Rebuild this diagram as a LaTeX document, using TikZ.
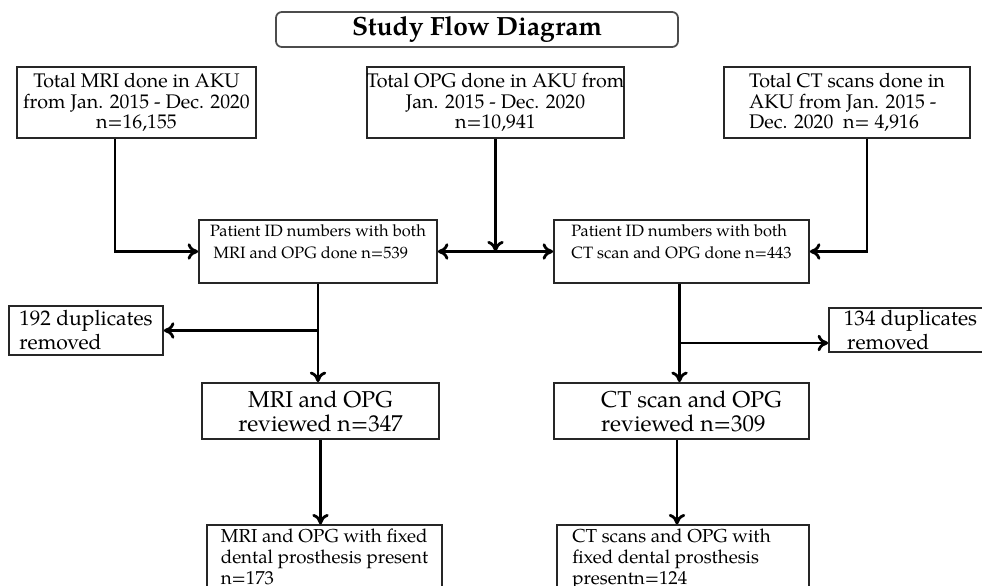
\documentclass[tikz,border=0pt]{standalone}
\usepackage{fontspec}
\setmainfont{texgyrepagella}[Extension=.otf, UprightFont=*-regular, BoldFont=*-bold, ItalicFont=*-italic, BoldItalicFont=*-bolditalic]
\usepackage{tikz}
\usetikzlibrary{arrows.meta}

\begin{document}
\begin{tikzpicture}[
    box/.style={draw=black!85, line width=1.5pt, inner xsep=2pt, inner ysep=0pt},
    arr/.style={line width=2.4pt, -{To[length=9pt, width=14pt]}},
    topfont/.style={font=\fontsize{16.8pt}{17.6pt}\selectfont},
    idfont/.style={font=\fontsize{14pt}{18.7pt}\selectfont},
    dupfont/.style={font=\fontsize{18pt}{20.4pt}\selectfont},
    revfont/.style={font=\fontsize{19.6pt}{20.4pt}\selectfont},
    endfont/.style={font=\fontsize{16pt}{18.2pt}\selectfont}
  ]
    \useasboundingbox (0,0) rectangle (29.46,-17.58);

    % Title
    \node[box, draw=black!70, rounded corners=5pt, minimum width=12.06cm, minimum height=1.05cm,
      font=\fontsize{22.5pt}{24pt}\selectfont\bfseries] (title) at (14.31,-0.885) {Study Flow Diagram};

    % Source scans
    \node[box, topfont, minimum width=7.17cm, minimum height=2.13cm, align=center] (mri) at (4.095,-3.075)
      {Total MRI done in AKU\\ from Jan. 2015 - Dec. 2020\\ n=16,155};
    \node[box, topfont, minimum width=7.65cm, minimum height=2.13cm, inner xsep=0pt, align=center] (opg) at (14.865,-3.075)
      {Total OPG done in AKU from\\ Jan. 2015 - Dec. 2020\\ n=10,941};
    \node[box, topfont, minimum width=7.38cm, minimum height=2.13cm, align=left] (ct) at (25.41,-3.075)
      {Total CT scans done in\\ AKU from Jan. 2015 -\\ Dec. 2020~~n= 4,916};

    % Matched patient IDs
    \node[box, idfont, minimum width=7.14cm, minimum height=1.89cm, align=left] (pmri) at (9.54,-7.545)
      {Patient ID numbers with both\\ \hspace*{0.1cm}MRI and OPG done n=539\\[-0.08cm]};
    \node[box, idfont, minimum width=7.65cm, minimum height=1.89cm, align=left] (pct) at (20.445,-7.545)
      {Patient ID numbers with both\\ CT scan and OPG done n=443\\[-0.08cm]};

    % Duplicates
    \node[box, dupfont, minimum width=4.62cm, minimum height=1.47cm, align=left] (dup1) at (2.58,-9.915)
      {192 duplicates\\ removed};
    \node[box, dupfont, minimum width=4.89cm, minimum height=1.32cm, align=left] (dup2) at (27.315,-9.9)
      {134 duplicates\\ \hspace*{0.1cm}removed};

    % Reviewed
    \node[box, revfont, minimum width=7.11cm, minimum height=1.68cm, align=center] (rmri) at (9.615,-12.33)
      {MRI and OPG\\ reviewed n=347};
    \node[box, revfont, minimum width=7.65cm, minimum height=1.68cm, align=left] (rct) at (20.445,-12.33)
      {\hspace*{0.6cm}CT scan and OPG\\ \hspace*{0.6cm}reviewed n=309};

    % With fixed dental prosthesis
    \node[box, endfont, minimum width=7.05cm, minimum height=2.28cm, align=left] (fmri) at (9.735,-16.9)
      {MRI and OPG with fixed\\ dental prosthesis present\\ n=173\\[-0.25cm]};
    \node[box, endfont, minimum width=7.56cm, minimum height=2.28cm, align=left] (fct) at (20.49,-16.9)
      {CT scans and OPG with\hspace*{0.69cm}\\ fixed dental prosthesis\\ presentn=124\\[-0.25cm]};

    % Connectors
    \coordinate (jn) at (opg.south |- pmri.east);
    \coordinate (ctdown) at ([xshift=-0.06cm]pct.south);
    \coordinate (dupin) at ([yshift=-0.39cm]dup2.west);
    \coordinate (ctend) at ([xshift=-0.135cm]rct.south);
    \draw[arr] ([xshift=-0.645cm]mri.south) |- (pmri.west);
    \draw[arr] ([xshift=0.6cm]ct.south) |- (pct.east);
    \draw[arr] (opg.south) -- (jn);
    \draw[arr] (jn) -- (pmri.east);
    \draw[arr] (jn) -- (pct.west);

    \draw[arr] (pmri.south) -- (pmri.south |- rmri.north);
    \draw[arr] (pmri.south |- dup1.east) -- (dup1.east);
    \draw[arr] (ctdown) -- (ctdown |- rct.north);
    \draw[arr] (ctdown |- dupin) -- (dupin);

    \draw[arr] (rmri.south) -- (rmri.south |- fmri.north);
    \draw[arr] (ctend) -- (ctend |- fct.north);
\end{tikzpicture}
\end{document}
